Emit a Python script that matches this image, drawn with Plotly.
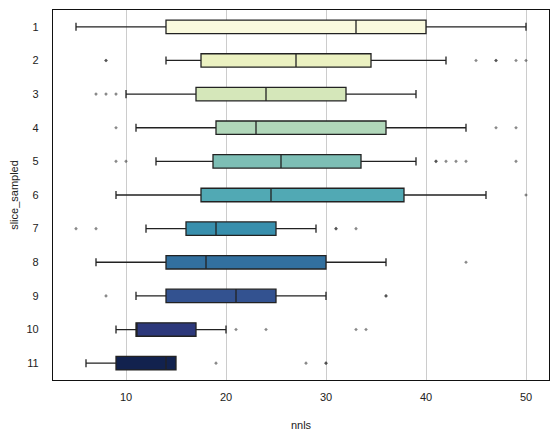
import colorsys
import plotly.graph_objects as go

# ---- data ----
categories = ["1", "2", "3", "4", "5", "6", "7", "8", "9", "10", "11"]
lower_whisker = [5, 14, 10, 11, 13, 9, 12, 7, 11, 9, 6]
q1_vals = [14, 17.5, 17, 19, 18.7, 17.5, 16, 14, 14, 11, 9]
median_vals = [33, 27, 24, 23, 25.5, 24.5, 19, 18, 21, 11, 14]
q3_vals = [40, 34.5, 32, 36, 33.5, 37.8, 25, 30, 25, 17, 15]
upper_whisker = [50, 42, 39, 44, 39, 46, 29, 36, 30, 20, 15]
outliers = [
    [],
    [8, 8, 45, 47, 47, 49, 50],
    [7, 8, 9],
    [9, 47, 49],
    [9, 10, 41, 41, 42, 43, 44, 49],
    [50],
    [5, 7, 31, 31, 33],
    [44],
    [8, 36, 36],
    [21, 24, 33, 34],
    [19, 28, 30, 30],
]
x_ticks = [10, 20, 30, 40, 50]

# ---- colours: YlGnBu sampled end to end, desaturated to 0.75 ----
anchors = ["#ffffd9", "#edf8b1", "#c7e9b4", "#7fcdbb", "#41b6c4",
           "#1d91c0", "#225ea8", "#253494", "#081d58"]


def hex2rgb(h):
    h = h.lstrip("#")
    return [int(h[i:i + 2], 16) / 255 for i in (0, 2, 4)]


def cmap(t):
    seg = t * (len(anchors) - 1)
    i = min(int(seg), len(anchors) - 2)
    f = seg - i
    a, b = hex2rgb(anchors[i]), hex2rgb(anchors[i + 1])
    return [a[k] + (b[k] - a[k]) * f for k in range(3)]


n = len(categories)
colors = []
for i in range(n):
    r, g, b = cmap(i / (n - 1))
    h, l, s = colorsys.rgb_to_hls(r, g, b)
    r, g, b = colorsys.hls_to_rgb(h, l, s * 0.75)
    colors.append("rgb(%d,%d,%d)" % (round(r * 255), round(g * 255), round(b * 255)))

FONT = "Liberation Sans, Arial, sans-serif"
fig = go.Figure()

for i, cat in enumerate(categories):
    fig.add_trace(go.Box(
        y=[cat], q1=[q1_vals[i]], median=[median_vals[i]], q3=[q3_vals[i]],
        lowerfence=[lower_whisker[i]], upperfence=[upper_whisker[i]],
        orientation="h", width=0.4, whiskerwidth=0.6,
        fillcolor=colors[i], line=dict(color="#222222", width=1.3),
        boxpoints=False, showlegend=False, hoverinfo="skip",
    ))

out_x, out_y = [], []
for cat, pts in zip(categories, outliers):
    for p in pts:
        out_x.append(p)
        out_y.append(cat)
fig.add_trace(go.Scatter(
    x=out_x, y=out_y, mode="markers",
    marker=dict(symbol="diamond", size=2.8, color="rgba(40,40,40,0.55)", line=dict(width=0)),
    showlegend=False, hoverinfo="skip",
))

fig.update_layout(
    width=558, height=442,
    margin=dict(l=53, r=9, t=10, b=62),
    paper_bgcolor="white", plot_bgcolor="white",
    boxmode="overlay",
    font=dict(family=FONT, size=11, color="#222222"),
    xaxis=dict(
        range=[2.7, 52.3], tickvals=x_ticks, ticktext=[str(v) for v in x_ticks],
        showgrid=True, gridcolor="#cccccc", gridwidth=1, zeroline=False,
        showline=True, linecolor="#111111", linewidth=1.3, mirror=True,
        ticks="outside", ticklen=7, tickcolor="rgba(0,0,0,0)",
        title=dict(text="nnls", standoff=18, font=dict(size=11)),
        tickfont=dict(size=11),
    ),
    yaxis=dict(
        type="category", categoryorder="array", categoryarray=categories,
        range=[10.5, -0.5],
        showgrid=False, zeroline=False,
        showline=True, linecolor="#111111", linewidth=1.3, mirror=True,
        ticks="outside", ticklen=11, tickcolor="rgba(0,0,0,0)",
        title=dict(text="slice_sampled", standoff=5, font=dict(size=11)),
        tickfont=dict(size=11),
    ),
)

fig.write_html("out.html")
